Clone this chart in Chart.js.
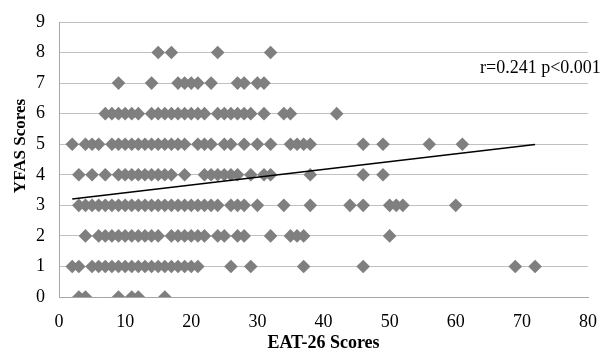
<!DOCTYPE html>
<html>
<head>
<meta charset="utf-8">
<script src="https://cdn.jsdelivr.net/npm/chart.js@4/dist/chart.umd.min.js"></script>
<style>
    html, body { margin: 0; padding: 0; background: #fff; }
    #wrap { width: 608px; height: 354px; }
</style>
</head>
<body>
<div id="wrap"><canvas id="scatterChart"></canvas></div>
<script>
// ===== DATA: EAT-26 scores observed at each YFAS score =====
const eatAtYfas0 = [3, 4, 9, 11, 12, 16];
const eatAtYfas1 = [2, 3, 5, 6, 7, 8, 9, 10, 11, 12, 13, 14, 15, 16, 17, 18, 19, 20, 21, 26, 29, 37, 46, 69, 72];
const eatAtYfas2 = [4, 6, 7, 8, 9, 10, 11, 12, 13, 14, 15, 17, 18, 19, 20, 21, 22, 24, 25, 27, 28, 32, 35, 36, 37, 50];
const eatAtYfas3 = [3, 4, 5, 6, 7, 8, 9, 10, 11, 12, 13, 14, 15, 16, 17, 18, 19, 20, 21, 22, 23, 24, 26, 27, 28, 30, 34, 38, 44, 46, 50, 51, 52, 60];
const eatAtYfas4 = [3, 5, 7, 9, 10, 11, 12, 13, 14, 15, 16, 17, 19, 22, 23, 24, 25, 26, 27, 29, 31, 32, 38, 46, 49];
const eatAtYfas5 = [2, 4, 5, 6, 8, 9, 10, 11, 12, 13, 14, 15, 16, 17, 18, 19, 21, 22, 23, 25, 26, 28, 30, 32, 35, 36, 37, 38, 46, 49, 56, 61];
const eatAtYfas6 = [7, 8, 9, 10, 11, 12, 14, 15, 16, 17, 18, 19, 20, 21, 22, 24, 25, 26, 27, 28, 29, 31, 34, 35, 42];
const eatAtYfas7 = [9, 14, 18, 19, 20, 21, 23, 27, 28, 30, 31];
const eatAtYfas8 = [15, 17, 24, 32];

// trend line end points
const trendX = [2, 72];
const trendY = [3.21, 4.99];

const xTicks = [0, 10, 20, 30, 40, 50, 60, 70, 80];
const yTicks = [0, 1, 2, 3, 4, 5, 6, 7, 8, 9];
const annotationText = 'r=0.241 p<0.001';
const yTitleText = 'YFAS Scores';

// build scatter points
const rows = [eatAtYfas0, eatAtYfas1, eatAtYfas2, eatAtYfas3, eatAtYfas4,
              eatAtYfas5, eatAtYfas6, eatAtYfas7, eatAtYfas8];
const scatterPoints = [];
rows.forEach((xs, yfas) => {
    xs.forEach(x => scatterPoints.push({ x: x, y: yfas }));
});
const trendPoints = trendX.map((x, i) => ({ x: x, y: trendY[i] }));

const FONT = "'Liberation Serif', 'Times New Roman', serif";
Chart.defaults.font.family = FONT;
Chart.defaults.color = '#000';

// ===== ANNOTATION TEXT + Y TITLE =====
const textPlugin = {
    id: 'extraText',
    afterDatasetsDraw(chart) {
        const ctx = chart.ctx;
        const area = chart.chartArea;
        ctx.save();
        ctx.font = '18px ' + FONT;
        ctx.fillStyle = '#000';
        ctx.textAlign = 'left';
        ctx.textBaseline = 'middle';
        ctx.fillText(annotationText, area.right - 108, 68);

        // y axis title, rotated
        ctx.font = 'bold 17px ' + FONT;
        ctx.textAlign = 'center';
        ctx.translate(21, 146);
        ctx.rotate(-Math.PI / 2);
        ctx.fillText(yTitleText, 0, 0);
        ctx.restore();
    }
};

new Chart(document.getElementById('scatterChart'), {
    type: 'scatter',
    data: {
        datasets: [{
            label: 'trend',
            type: 'line',
            data: trendPoints,
            borderColor: '#000',
            borderWidth: 1.5,
            pointRadius: 0,
            fill: false,
            order: 0
        }, {
            label: 'YFAS vs EAT-26',
            data: scatterPoints,
            pointStyle: 'rectRot',
            pointRadius: 6.8,
            pointHoverRadius: 6.8,
            backgroundColor: '#7f7f7f',
            borderColor: '#7f7f7f',
            borderWidth: 0,
            order: 1
        }]
    },
    options: {
        responsive: true,
        maintainAspectRatio: false,
        animation: false,
        layout: { padding: { left: 0, right: 20, top: 22, bottom: 0 } },
        plugins: {
            legend: { display: false },
            tooltip: { enabled: false }
        },
        scales: {
            x: {
                type: 'linear',
                min: 0,
                max: 80,
                afterBuildTicks: scale => { scale.ticks = xTicks.map(v => ({ value: v })); },
                afterFit: scale => {
                    scale.height = 57;
                    scale.paddingLeft = 0;
                    scale.paddingRight = 0;
                },
                grid: { display: false, drawTicks: false },
                border: { display: true, color: '#a6a6a6', width: 1 },
                ticks: { font: { size: 18 }, padding: 14, maxRotation: 0 },
                title: {
                    display: true,
                    text: 'EAT-26 Scores',
                    font: { size: 18, weight: 'bold' },
                    padding: { top: 0, bottom: 0 }
                }
            },
            y: {
                type: 'linear',
                min: 0,
                max: 9,
                afterBuildTicks: scale => { scale.ticks = yTicks.map(v => ({ value: v })); },
                afterFit: scale => {
                    scale.width = 59;
                    scale.paddingTop = 0;
                    scale.paddingBottom = 0;
                },
                grid: { color: '#c0c0c0', lineWidth: 1, drawTicks: false },
                border: { display: true, color: '#a6a6a6', width: 1 },
                ticks: { font: { size: 18 }, padding: 14 },
                title: { display: false }
            }
        }
    },
    plugins: [textPlugin]
});
</script>
</body>
</html>
